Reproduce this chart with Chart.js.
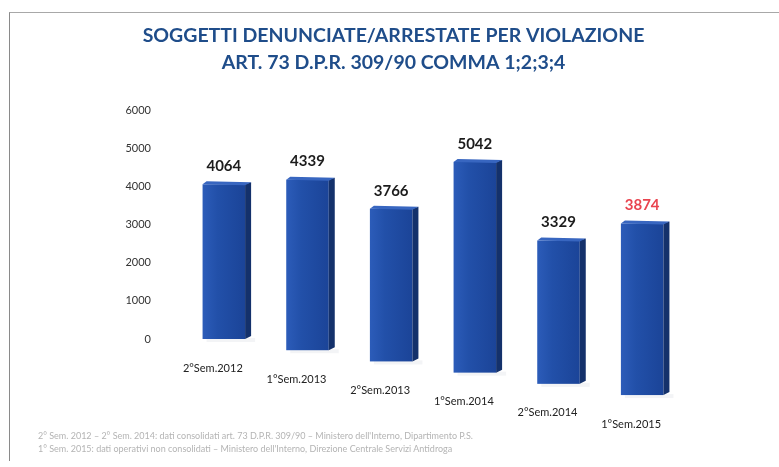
<!DOCTYPE html>
<html>
<head>
<meta charset="utf-8">
<script src="https://cdn.jsdelivr.net/npm/chart.js@4/dist/chart.umd.min.js"></script>
<style>
  html, body { margin: 0; padding: 0; background: #fff; }
  #wrap { position: relative; width: 779px; height: 467px; overflow: hidden; }
  #frame { position: absolute; left: 9px; top: 12px; width: 780px; height: 448px;
           border-top: 1px solid #a8a8a8; border-left: 1px solid #8a8a8a; }
  #notes { position: absolute; left: 38px; top: 429px; font: 9px Lato, sans-serif;
           color: #b4b4b4; line-height: 13px; white-space: nowrap; }
  canvas { position: absolute; left: 0; top: 0; }
</style>
</head>
<body>
<div id="wrap">
  <div id="frame"></div>
  <canvas id="chart" width="779" height="467"></canvas>
  <div id="notes">
    2° Sem. 2012 – 2° Sem. 2014: dati consolidati art. 73 D.P.R. 309/90 – Ministero dell'Interno, Dipartimento P.S.<br>
    1° Sem. 2015: dati operativi non consolidati – Ministero dell'Interno, Direzione Centrale Servizi Antidroga
  </div>
</div>
<script>
'use strict';

const semesters = ['2°Sem.2012', '1°Sem.2013', '2°Sem.2013', '1°Sem.2014', '2°Sem.2014', '1°Sem.2015'];
const soggetti = [4064, 4339, 3766, 5042, 3329, 3874];
const yTicks = [0, 1000, 2000, 3000, 4000, 5000, 6000];

// fake perspective: bars further right sit lower and look taller
const SKEW = 0.134;
const GROW = 0.00039;

function barBox(chart, i) {
  const meta = chart.getDatasetMeta(0);
  const x0 = meta.data[0].x;
  const { x, y, base, width } = meta.data[i].getProps(['x', 'y', 'base', 'width'], true);
  const dx = x - x0;
  const b = base + SKEW * dx;
  const h = (base - y) * (1 + GROW * dx);
  return { x, l: x - width / 2, r: x + width / 2, t: b - h, b };
}

const boxes3d = {
  id: 'boxes3d',
  beforeDatasetsDraw(chart) {
    const ctx = chart.ctx;
    const side = 6;
    chart.getDatasetMeta(0).data.forEach((bar, i) => {
      const { l, r, t, b } = barBox(chart, i);
      ctx.save();
      // faint floor shadow
      ctx.fillStyle = 'rgba(140,150,170,0.10)';
      ctx.fillRect(l + 4, b - 1, r - l, 4);
      // front face
      const g = ctx.createLinearGradient(l, 0, r - side, 0);
      g.addColorStop(0, '#2c5cb9');
      g.addColorStop(0.35, '#2250a9');
      g.addColorStop(1, '#1b4498');
      ctx.fillStyle = g;
      ctx.fillRect(l, t, r - side - l, b - t);
      // side face
      ctx.fillStyle = '#14316b';
      ctx.beginPath();
      ctx.moveTo(r - side, t);
      ctx.lineTo(r, t - 2);
      ctx.lineTo(r, b - 3);
      ctx.lineTo(r - side, b);
      ctx.closePath();
      ctx.fill();
      // top face
      ctx.fillStyle = '#3866c0';
      ctx.beginPath();
      ctx.moveTo(l, t);
      ctx.lineTo(l + 4, t - 3);
      ctx.lineTo(r, t - 2);
      ctx.lineTo(r - side, t + 1);
      ctx.closePath();
      ctx.fill();
      ctx.restore();
    });
    return false;
  },
  afterDraw(chart) {
    const ctx = chart.ctx;
    ctx.save();
    ctx.textAlign = 'center';
    ctx.textBaseline = 'middle';
    chart.data.labels.forEach((lab, i) => {
      const { x, t, b } = barBox(chart, i);
      const v = chart.data.datasets[0].data[i];
      ctx.font = 'bold 15px Lato, sans-serif';
      ctx.fillStyle = i === soggetti.length - 1 ? '#e9444f' : '#1c1c1c';
      ctx.fillText(String(v), x - 3, t - 18);
      ctx.font = '11px Lato, sans-serif';
      ctx.fillStyle = '#222';
      ctx.fillText(lab, x - 14, b + 29);
    });
    ctx.restore();
  }
};

new Chart(document.getElementById('chart'), {
  type: 'bar',
  data: {
    labels: semesters,
    datasets: [{
      label: 'Soggetti denunciati/arrestati',
      data: soggetti,
      backgroundColor: '#2250a9',
      barPercentage: 0.58,
      categoryPercentage: 1
    }]
  },
  options: {
    responsive: false,
    animation: false,
    layout: { padding: { left: 100, right: 92, top: 22, bottom: 128 } },
    plugins: {
      legend: { display: false },
      tooltip: { enabled: false },
      title: {
        display: true,
        text: ['SOGGETTI DENUNCIATE/ARRESTATE PER VIOLAZIONE', 'ART. 73 D.P.R. 309/90 COMMA 1;2;3;4'],
        color: '#1f4d8a',
        font: { family: 'Lato', size: 19.5, weight: 'bold', lineHeight: 1.4 },
        padding: { top: 0, bottom: 34 }
      }
    },
    scales: {
      x: { display: false },
      y: {
        min: 0,
        max: 6000,
        afterFit: s => { s.width = 85; },
        afterBuildTicks: s => { s.ticks = yTicks.map(v => ({ value: v })); },
        grid: { display: false },
        border: { display: false },
        ticks: {
          color: '#333',
          padding: 26,
          font: { family: 'Lato', size: 11 },
          callback: v => String(v)
        }
      }
    }
  },
  plugins: [boxes3d]
});
</script>
</body>
</html>
